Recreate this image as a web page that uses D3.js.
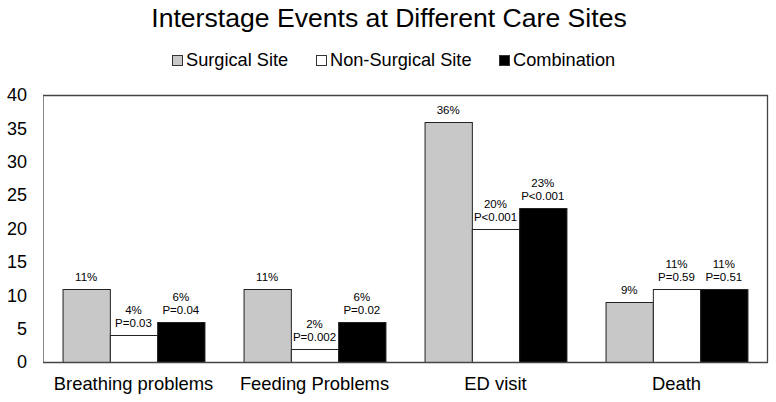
<!DOCTYPE html>
<html>
<head>
<meta charset="utf-8">
<script src="https://cdn.jsdelivr.net/npm/d3@7"></script>
<style>
  html, body { margin: 0; padding: 0; background: #fff; }
  svg { display: block; font-family: "Liberation Sans", Arial, sans-serif; }
</style>
</head>
<body>
<svg id="chart" width="776" height="402"></svg>
<script>
const categories = ["Breathing problems", "Feeding Problems", "ED visit", "Death"];
const seriesNames = ["Surgical Site", "Non-Surgical Site", "Combination"];
const surgical = [11, 11, 36, 9];
const nonSurgical = [4, 2, 20, 11];
const combination = [6, 6, 23, 11];
const pctSurgical = ["11%", "11%", "36%", "9%"];
const pctNonSurgical = ["4%", "2%", "20%", "11%"];
const pctCombination = ["6%", "6%", "23%", "11%"];
const pNonSurgical = ["P=0.03", "P=0.002", "P<0.001", "P=0.59"];
const pCombination = ["P=0.04", "P=0.02", "P<0.001", "P=0.51"];
const yTicks = [0, 5, 10, 15, 20, 25, 30, 35, 40];

const colors = ["#c8c8c8", "#ffffff", "#000000"];
const svg = d3.select("#chart");
const plotL = 43, plotR = 767, plotT = 95, plotB = 362;

const x0 = d3.scaleBand().domain(categories).range([plotL, plotR]).paddingInner(0.216).paddingOuter(0.108);
const x1 = d3.scaleBand().domain(seriesNames).range([0, x0.bandwidth()]);
const y = d3.scaleLinear().domain([0, 40]).range([plotB, plotT]);

// Title
svg.append("text").attr("x", 389).attr("y", 27).attr("text-anchor", "middle")
  .attr("font-size", 26.6).attr("fill", "#000").text("Interstage Events at Different Care Sites");

// Legend
const legendX = [172, 316, 499];
seriesNames.forEach((s, i) => {
  svg.append("rect").attr("x", legendX[i] + 0.5).attr("y", 55.5).attr("width", 10).attr("height", 10)
    .attr("fill", colors[i]).attr("stroke", "#333").attr("stroke-width", 1);
  svg.append("text").attr("x", legendX[i] + 14).attr("y", 66).attr("font-size", 18.2).attr("fill", "#000").text(s);
});

// Y axis labels
const yAxis = d3.axisLeft(y).tickValues(yTicks).tickSize(0).tickPadding(16);
const gy = svg.append("g").attr("transform", `translate(${plotL},0)`).call(yAxis);
gy.select(".domain").remove();
gy.selectAll("text").attr("font-size", 18).attr("fill", "#000").attr("font-family", "Liberation Sans, Arial, sans-serif");

// Bars
const data = categories.map((c, i) => ({
  cat: c,
  vals: [
    { s: seriesNames[0], v: surgical[i], lines: [pctSurgical[i]] },
    { s: seriesNames[1], v: nonSurgical[i], lines: [pctNonSurgical[i], pNonSurgical[i]] },
    { s: seriesNames[2], v: combination[i], lines: [pctCombination[i], pCombination[i]] }
  ]
}));

const groups = svg.selectAll("g.grp").data(data).join("g").attr("class", "grp")
  .attr("transform", d => `translate(${x0(d.cat)},0)`);

groups.selectAll("rect").data(d => d.vals).join("rect")
  .attr("x", d => x1(d.s) + 0.5)
  .attr("y", d => Math.round(y(d.v)) + 0.5)
  .attr("width", x1.bandwidth())
  .attr("height", d => plotB - Math.round(y(d.v)))
  .attr("fill", (d, i) => colors[i])
  .attr("stroke", "#222").attr("stroke-width", 1);

groups.selectAll("text.lbl").data(d => d.vals).join("text").attr("class", "lbl")
  .attr("text-anchor", "middle").attr("font-size", 11.5).attr("fill", "#000")
  .attr("x", d => x1(d.s) + x1.bandwidth() / 2)
  .attr("y", d => y(d.v) - 8 - (d.lines.length - 1) * 13)
  .selectAll("tspan").data(d => d.lines).join("tspan")
  .attr("x", function() { return d3.select(this.parentNode).attr("x"); })
  .attr("dy", (d, i) => i === 0 ? 0 : 13)
  .text(d => d);

// Frame
svg.append("line").attr("x1", plotL + 0.5).attr("x2", plotL + 0.5).attr("y1", plotT).attr("y2", plotB)
  .attr("stroke", "#888").attr("stroke-width", 1);
svg.append("line").attr("x1", plotL).attr("x2", plotR + 1).attr("y1", plotT + 0.5).attr("y2", plotT + 0.5)
  .attr("stroke", "#444").attr("stroke-width", 1.3);
svg.append("line").attr("x1", plotR + 0.5).attr("x2", plotR + 0.5).attr("y1", plotT).attr("y2", plotB + 1)
  .attr("stroke", "#444").attr("stroke-width", 1.3);
svg.append("line").attr("x1", plotL).attr("x2", plotR + 1).attr("y1", plotB + 0.5).attr("y2", plotB + 0.5)
  .attr("stroke", "#444").attr("stroke-width", 1.3);

// X category labels
const xAxis = d3.axisBottom(x0).tickSize(0).tickPadding(0);
const gx = svg.append("g").attr("transform", `translate(0,${plotB})`).call(xAxis);
gx.select(".domain").remove();
gx.selectAll("text").attr("font-size", 18.4).attr("fill", "#000").attr("dy", 0).attr("y", 28)
  .attr("font-family", "Liberation Sans, Arial, sans-serif");
</script>
</body>
</html>
